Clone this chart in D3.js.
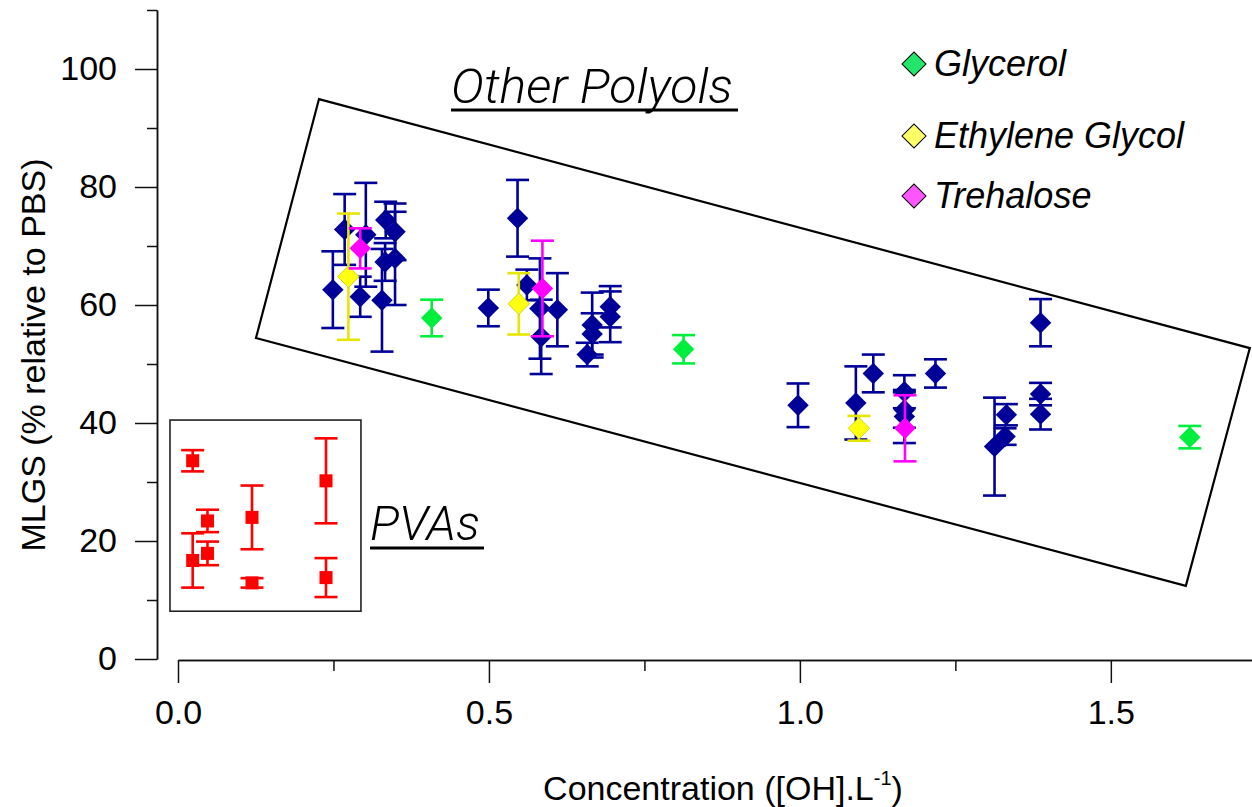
<!DOCTYPE html>
<html><head><meta charset="utf-8">
<script src="https://cdn.jsdelivr.net/npm/d3@7"></script>
<style>body{margin:0;background:#fff}svg{display:block}</style>
</head><body><svg id="c" width="1252" height="807"></svg>
<script>
// ---- data ----
const polyolX   = [0.249,0.268,0.302,0.293,0.328,0.334,0.349,0.333,0.349,0.499,0.546,0.561,0.582,0.584,0.610,0.658,0.666,0.666,0.695,0.695,0.997,1.090,1.118,1.168,1.168,1.168,1.218,1.313,1.332,1.330,1.387,1.387,1.387];
const polyolY   = [62.6,72.8,71.9,61.4,60.8,74.4,72.4,67.3,67.9,59.5,74.7,63.4,59.4,54.6,59.2,51.6,56.6,55.1,59.7,58.0,43.0,43.4,48.4,45.3,42.2,41.1,48.4,36.0,41.4,37.7,57.0,44.9,41.5];
const polyolErr = [6.5,6.0,8.8,3.4,8.7,3.1,4.8,3.2,7.9,3.1,6.5,2.6,8.5,6.3,6.2,2.0,5.5,3.5,3.5,4.3,3.7,6.2,3.2,2.8,3.0,4.5,2.4,8.3,1.8,1.4,4.0,1.9,2.6];

const glycerolX   = [0.408,0.813,1.627];
const glycerolY   = [57.8,52.5,37.6];
const glycerolErr = [3.1,2.4,1.9];

const egX   = [0.274,0.548,1.095];
const egY   = [64.8,60.2,39.1];
const egErr = [10.7,5.2,2.1];

const trehaloseX   = [0.293,0.586,1.169];
const trehaloseY   = [69.6,62.8,39.1];
const trehaloseErr = [3.4,8.1,5.6];

const pvaX   = [0.0236,0.0236,0.0474,0.0474,0.119,0.119,0.238,0.238];
const pvaY   = [33.6,16.7,23.4,17.9,24.0,12.9,30.2,13.8];
const pvaErr = [1.8,4.6,1.9,2.0,5.4,0.8,7.2,3.3];

const xMajorTicks = [0,0.5,1.0,1.5];
const xMinorTicks = [0.25,0.75,1.25];
const yMajorTicks = [0,20,40,60,80,100];
const yMinorTicks = [10,30,50,70,90,110];

const legendNames = ["Glycerol","Ethylene Glycol","Trehalose"];

// annotation outlines in data units
const polyolBoxX = [0.2267,1.7235,1.6206,0.1254];
const polyolBoxY = [94.9,52.7,12.4,54.4];
const pvaBoxX = [-0.0129,0.2942];
const pvaBoxY = [40.5,8.1];

// ---- chart ----
const svg = d3.select("#c");
const x = d3.scaleLinear().domain([0,1.727]).range([178,1252]);
const y = d3.scaleLinear().domain([0,110]).range([659,10]);
const FONT = "'Liberation Sans', Arial, Helvetica, sans-serif";

// y axis
const yg = svg.append("g").attr("transform","translate(157,0)");
yg.call(d3.axisLeft(y).tickValues(yMajorTicks).tickSize(22).tickSizeOuter(0).tickPadding(18).tickFormat(d3.format("d")));
yg.append("g").call(d3.axisLeft(y).tickValues(yMinorTicks).tickSize(10).tickSizeOuter(0).tickFormat(""));
// x axis
const xg = svg.append("g").attr("transform","translate(0,660)");
xg.call(d3.axisBottom(x).tickValues(xMajorTicks).tickSize(23).tickSizeOuter(0).tickPadding(17).tickFormat(d3.format(".1f")));
xg.append("g").call(d3.axisBottom(x).tickValues(xMinorTicks).tickSize(11).tickSizeOuter(0).tickFormat(""));
svg.selectAll(".domain, .tick line").attr("stroke","#111").attr("stroke-width",1.5);
svg.selectAll(".tick text").attr("font-size",34).attr("font-family",FONT).attr("fill","#000");

// axis titles
svg.append("text").attr("transform","translate(45,355) rotate(-90)")
  .attr("text-anchor","middle").attr("font-family",FONT).attr("font-size",34)
  .text("MLGS (% relative to PBS)");
const xt = svg.append("text").attr("x",723).attr("y",800).attr("text-anchor","middle")
  .attr("font-family",FONT).attr("font-size",34);
xt.append("tspan").text("Concentration ([OH].L");
xt.append("tspan").attr("dy",-15).attr("font-size",20).text("-1");
xt.append("tspan").attr("dy",15).text(")");

// annotation shapes
svg.append("path")
  .attr("d", d3.line()(polyolBoxX.map((v,i)=>[x(v),y(polyolBoxY[i])])) + "Z")
  .attr("fill","none").attr("stroke","#000").attr("stroke-width",2.2);
svg.append("rect")
  .attr("x",x(pvaBoxX[0])).attr("y",y(pvaBoxY[0]))
  .attr("width",x(pvaBoxX[1])-x(pvaBoxX[0])).attr("height",y(pvaBoxY[1])-y(pvaBoxY[0]))
  .attr("fill","none").attr("stroke","#222").attr("stroke-width",1.6);

const LIGHT = "Roboto, Lato, 'Open Sans', 'Liberation Sans', sans-serif";
svg.append("text").attr("x",451).attr("y",103).attr("font-family",LIGHT).attr("font-style","italic")
  .attr("font-weight",300).attr("font-size",48).attr("textLength",282).attr("lengthAdjust","spacingAndGlyphs")
  .text("Other Polyols");
svg.append("line").attr("x1",451).attr("x2",738).attr("y1",110).attr("y2",110).attr("stroke","#000").attr("stroke-width",2.8);
svg.append("text").attr("x",370).attr("y",540).attr("font-family",LIGHT).attr("font-style","italic")
  .attr("font-weight",300).attr("font-size",48).attr("textLength",110).attr("lengthAdjust","spacingAndGlyphs")
  .text("PVAs");
svg.append("line").attr("x1",370).attr("x2",484).attr("y1",548).attr("y2",548).attr("stroke","#000").attr("stroke-width",2.8);

// series drawing
const diamond = d3.symbol(d3.symbolSquare, 230)();
const square = d3.symbol(d3.symbolSquare, 170)();
function drawSeries(xs, ys, es, color, fill, markerPath, rot, outline){
  const g = svg.append("g");
  const d = xs.map((v,i)=>({x:v,y:ys[i],e:es[i]}));
  const eb = g.selectAll("g.eb").data(d).join("g").attr("stroke",color).attr("stroke-width",2.6);
  eb.append("line").attr("x1",p=>x(p.x)).attr("x2",p=>x(p.x)).attr("y1",p=>y(p.y-p.e)).attr("y2",p=>y(p.y+p.e));
  eb.append("line").attr("x1",p=>x(p.x)-11.5).attr("x2",p=>x(p.x)+11.5).attr("y1",p=>y(p.y+p.e)).attr("y2",p=>y(p.y+p.e));
  eb.append("line").attr("x1",p=>x(p.x)-11.5).attr("x2",p=>x(p.x)+11.5).attr("y1",p=>y(p.y-p.e)).attr("y2",p=>y(p.y-p.e));
  g.selectAll("path.m").data(d).join("path").attr("d",markerPath)
    .attr("transform",p=>`translate(${x(p.x)},${y(p.y)}) rotate(${rot})`)
    .attr("fill",fill).attr("stroke",outline||"none").attr("stroke-width",outline?0.8:0);
}
drawSeries(pvaX,pvaY,pvaErr,"#ff0000","#ff0000",square,0);
drawSeries(polyolX,polyolY,polyolErr,"#000099","#000099",diamond,45);
drawSeries(glycerolX,glycerolY,glycerolErr,"#00ee3c","#00ee3c",diamond,45);
drawSeries(egX,egY,egErr,"#e6e600","#ffff10",diamond,45,"#cccc00");
drawSeries(trehaloseX,trehaloseY,trehaloseErr,"#ff00ff","#ff00ff",diamond,45);

// legend
const legendColors = ["#22e56a","#ffff66","#ff55ff"];
const legendY = [64,136,196];
const lg = svg.append("g");
const legendMarker = d3.symbol(d3.symbolSquare, 290)();
legendNames.forEach((name,i)=>{
  lg.append("path").attr("d",legendMarker).attr("transform",`translate(914,${legendY[i]}) rotate(45)`)
    .attr("fill",legendColors[i]).attr("stroke","#000").attr("stroke-width",1);
  lg.append("text").attr("x",934).attr("y",legendY[i]+12).attr("font-family",FONT)
    .attr("font-style","italic").attr("font-size",36).text(name);
});
</script></body></html>
